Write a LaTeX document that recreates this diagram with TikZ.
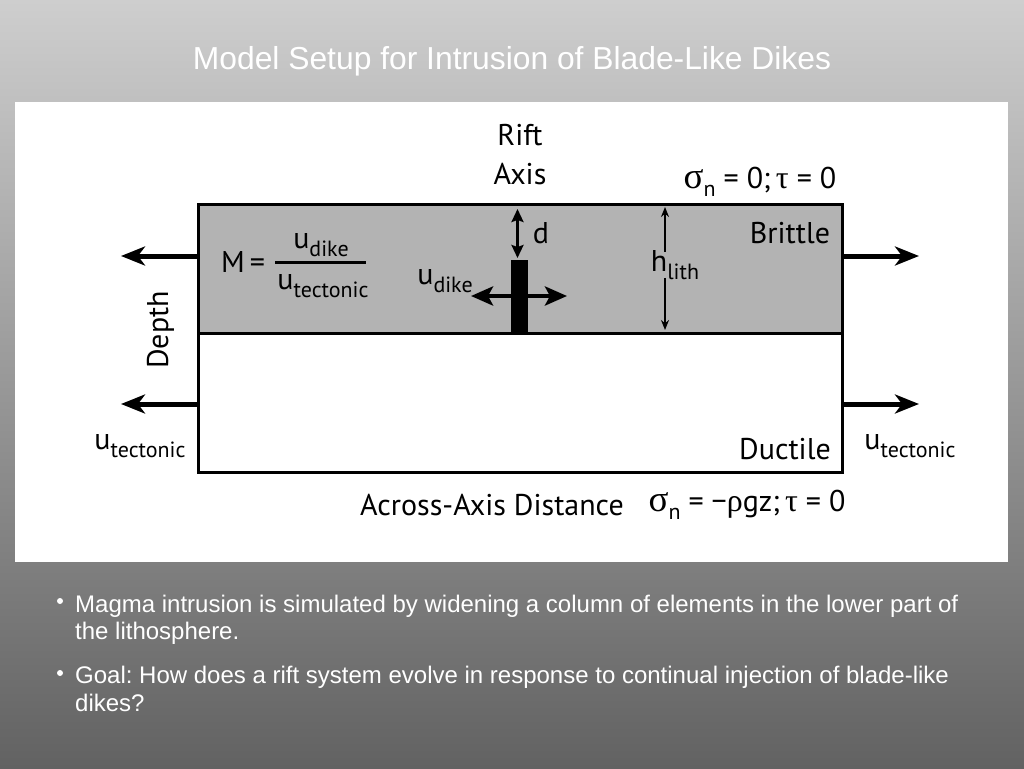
\documentclass[tikz,border=0pt]{standalone}
\usepackage{fontspec}
\setmainfont{PT Sans}[Ligatures=CommonOff]
\newfontfamily\arialf{Liberation Sans}
\newfontfamily\greekf{Liberation Serif}
\usetikzlibrary{arrows.meta}
\frenchspacing
\newcommand{\lsub}[1]{\raisebox{-0.28em}{\fontsize{22}{22}\selectfont #1}}
\newcommand{\gsig}{{\greekf\fontsize{37}{37}\selectfont σ}}
\newcommand{\gsym}[1]{{\greekf\fontsize{32}{32}\selectfont #1}}
\definecolor{lithgray}{RGB}{179,179,179}
\definecolor{bgtop}{RGB}{206,206,206}
\definecolor{bgbot}{RGB}{98,98,98}
\tikzset{
  lbl/.style={inner sep=0pt, anchor=base, font=\fontsize{30}{30}\selectfont},
  bigarrow/.style={line width=5pt, -{Stealth[length=24pt,width=19pt,inset=7pt]}},
  dimarrow/.style={line width=2pt, -{Stealth[length=10pt,width=8pt]}},
  darrow/.style={line width=2.5pt, {Stealth[length=13pt,width=12pt,inset=2pt]}-{Stealth[length=13pt,width=12pt,inset=2pt]}},
  dikearrow/.style={line width=4.5pt, {Stealth[length=22pt,width=19pt,inset=5pt]}-{Stealth[length=22pt,width=19pt,inset=5pt]}},
  slide/.style={inner sep=0pt, anchor=base west, text=white, font=\arialf\fontsize{24}{24}\selectfont}
}
\begin{document}
\begin{tikzpicture}[x=1pt,y=-1pt]
\useasboundingbox (0,0) rectangle (1024,768);
\shade[top color=bgtop, bottom color=bgbot] (0,0) rectangle (1024,768);
\fill[white] (15,102) rectangle (1008,562);
\node[inner sep=0pt, anchor=base, text=white, font=\arialf\fontsize{31.8}{31.8}\selectfont] (title) at (512,70) {Model Setup for Intrusion of Blade-Like Dikes};

% model box
\fill[lithgray] (198,204) rectangle (842,333);
\draw[line width=3pt] (198,333) -- (842,333);
\draw[line width=3pt] (198,204) rectangle (842,472);
\coordinate (LT) at (198,256); \coordinate (LTend) at (121,256);
\coordinate (RT) at (842,256); \coordinate (RTend) at (919,256);
\coordinate (LB) at (198,404); \coordinate (LBend) at (121,404);
\coordinate (RB) at (842,404); \coordinate (RBend) at (919,404);
\draw[bigarrow] (LT) -- (LTend);
\draw[bigarrow] (RT) -- (RTend);
\draw[bigarrow] (LB) -- (LBend);
\draw[bigarrow] (RB) -- (RBend);

% dike
\fill[black] (511,260) rectangle (528,333);
\coordinate (dtop) at (517.5,209); \coordinate (dbot) at (517.5,258);
\draw[darrow] (dtop) -- (dbot);
\node[lbl] (dlab) at (541,243) {d};
\coordinate (uL) at (471,296); \coordinate (uR) at (567,296);
\draw[dikearrow] (uL) -- (uR);
\node[lbl] (udike) at (445,284) {u\lsub{dike}};

% h_lith
\node[lbl] (hlith) at (675,271) {h\lsub{lith}};
\coordinate (htop) at (665,207); \coordinate (hbot) at (665,330);
\draw[dimarrow] (htop |- hlith.north) ++(0,2) -- (htop);
\draw[dimarrow] (hbot |- hlith.south) ++(0,-2) -- (hbot);

% M formula
\node[lbl] (M) at (243,272) {M\,=};
\draw[line width=3pt] (275,262) -- (366,262);
\node[lbl] (fnum) at (321,248) {u\lsub{dike}};
\node[lbl] (fden) at (323,289) {u\lsub{tectonic}};

% labels
\node[lbl] (brittle) at (790,243) {Brittle};
\node[lbl] (ductile) at (785,459) {Ductile};
\node[lbl] (rift) at (520,145) {Rift};
\node[lbl] (axis) at (520,184) {Axis};
\node[lbl] (sigtop) at (760,188) {\gsig\lsub{n} = 0;\,\gsym{τ} = 0};
\node[lbl] (across) at (492,515) {Across-Axis Distance};
\node[lbl] (sigbot) at (747,511) {\gsig\lsub{n} = −\gsym{ρ}gz;\,\gsym{τ} = 0};
\node[lbl, rotate=90] (depth) at (168,330) {Depth};
\node[lbl] (utl) at (140,449) {u\lsub{tectonic}};
\node[lbl] (utr) at (910,449) {u\lsub{tectonic}};

% bullets
\node[slide] (b1a) at (75,612) {Magma intrusion is simulated by widening a column of elements in the lower part of};
\node[slide] (b1b) at (75,639) {the lithosphere.};
\node[slide] (b2a) at (75,683) {Goal: How does a rift system evolve in response to continual injection of blade-like};
\node[slide] (b2b) at (75,711) {dikes?};
\fill[white] (60,601) circle (3pt);
\fill[white] (60,673) circle (3pt);
\end{tikzpicture}
\end{document}
